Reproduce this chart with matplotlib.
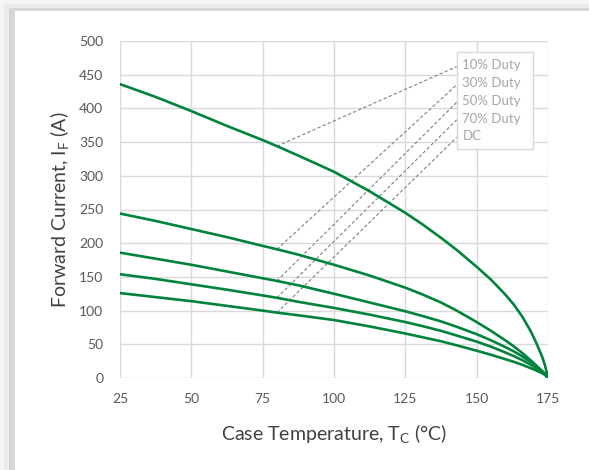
import matplotlib
matplotlib.use('Agg')
import matplotlib.pyplot as plt
from matplotlib.patches import Rectangle

plt.rcParams['font.family'] = ['Lato', 'DejaVu Sans']
plt.rcParams['mathtext.fontset'] = 'custom'
plt.rcParams['mathtext.rm'] = 'Lato'

# Data
case_temp = [25, 37.5, 50, 62.5, 75, 80, 87.5, 100, 112.5, 125, 131, 137.5,
             143, 150, 155, 160, 163, 166, 169, 171, 173, 174, 175]
duty_10 = [436, 417, 396, 374, 353, 344, 330, 306, 277, 245, 228, 208,
           190, 165, 146, 124, 109, 91, 69, 51, 31, 18, 0]
duty_30 = [244, 233, 221, 209, 196, 191, 183, 168, 152, 134, 124, 112,
           100, 83, 70, 56, 47, 37, 26, 18, 10, 5, 0]
duty_50 = [186, 177, 168, 158, 148, 144, 137.5, 125, 112, 99, 92, 84,
           76, 65, 56, 46, 39.5, 32, 23.5, 17, 10, 6, 0]
duty_70 = [154, 147, 139, 131, 122.5, 119, 113, 104, 94, 83, 77, 70,
           63, 54, 46.5, 38, 32.5, 26.5, 19.5, 14.5, 9, 5.5, 0]
duty_dc = [126, 120, 114, 107, 100, 97, 93, 86, 76.5, 66, 60.5, 54.5,
           48.5, 40.5, 34.5, 28, 24, 19.5, 14.5, 11, 7, 4.5, 0]

series = [duty_10, duty_30, duty_50, duty_70, duty_dc]
labels = ['10% Duty', '30% Duty', '50% Duty', '70% Duty', 'DC']
label_y = [462, 435, 409, 383, 357]

green = '#00843d'
grid_col = '#d9d9d9'

fig = plt.figure(figsize=(5.89, 4.70), dpi=100)
W, H = 589.0, 470.0

# gray frame / shadow at top-left
def px_rect(x0, y0, color):
    fig.patches.append(Rectangle((x0 / W, 0), 1 - x0 / W, 1 - y0 / H,
                                 transform=fig.transFigure, facecolor=color,
                                 edgecolor='none', zorder=-10))

px_rect(0, 0, '#f5f5f5')
px_rect(4, 4, '#ebebeb')
px_rect(9, 8, '#d6d6d6')
px_rect(15, 11, 'white')

ax = fig.add_axes([120 / W, 1 - 378 / H, 428 / W, 337 / H])
ax.set_facecolor('none')

for vals in series:
    ax.plot(case_temp, vals, color=green, lw=1.9, zorder=3,
            solid_joinstyle='round', solid_capstyle='round')

# leader lines and label box
idx = case_temp.index(80)
for vals, ly in zip(series, label_y):
    ax.plot([80, 143], [vals[idx], ly], color='#808080', lw=0.8,
            ls=(0, (3, 2)), zorder=2)

ax.add_patch(Rectangle((143, 340), 26.8, 143, facecolor='white',
                       edgecolor=grid_col, lw=1.0, zorder=4))
for lab, ly in zip(labels, label_y):
    ax.text(145, ly + 2, lab, fontsize=9.5, color='#a6a6a6', ha='left',
            va='center', zorder=5)

ax.set_xlim(25, 175)
ax.set_ylim(0, 500)
ax.set_xticks([25, 50, 75, 100, 125, 150, 175])
ax.set_yticks(range(0, 501, 50))
ax.grid(True, color=grid_col, lw=1.0)
ax.set_axisbelow(True)
for s in ax.spines.values():
    s.set_visible(False)
ax.tick_params(length=0, labelsize=10, labelcolor='#595959')
ax.tick_params(axis='x', pad=11)
ax.tick_params(axis='y', pad=12)

ax.set_xlabel('Case Temperature, T$\\mathregular{_C}$ (°C)', fontsize=14,
              color='#404040', labelpad=12)
ax.set_ylabel('Forward Current, I$\\mathregular{_F}$ (A)', fontsize=14,
              color='#404040', labelpad=6)

fig.savefig('out.png', dpi=100)
